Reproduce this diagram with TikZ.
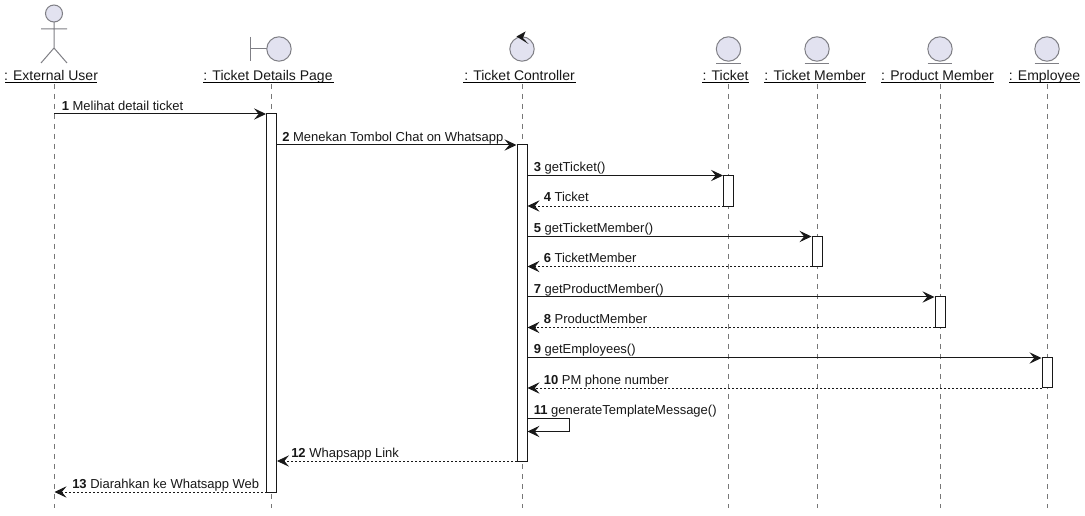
\documentclass[tikz,border=0pt]{standalone}
\usepackage{fontspec}
\setmainfont{Liberation Sans}
\usetikzlibrary{arrows.meta}
\definecolor{partfill}{HTML}{E2E2F0}
\definecolor{partline}{HTML}{7F7F85}
\definecolor{lifeln}{HTML}{777777}
\definecolor{ink}{HTML}{181818}
\tikzset{
  lifeline/.style={draw=lifeln,line width=0.6pt,dash pattern=on 3.75pt off 3.75pt},
  glyph/.style={draw=partline,line width=0.75pt},
  glyphfill/.style={glyph,fill=partfill},
  title/.style={font=\fontsize{10.5pt}{12pt}\selectfont,text=ink,anchor=base,inner sep=0pt},
  msg/.style={font=\fontsize{9.75pt}{11pt}\selectfont,text=ink,anchor=base west,inner sep=0pt},
  uline/.style={draw=black,line width=0.75pt},
  act/.style={draw=ink,fill=white,line width=0.75pt},
  call/.style={draw=ink,line width=0.75pt,-{Stealth[length=9pt,width=8.5pt,inset=3.5pt]}},
  ret/.style={draw=ink,line width=0.6pt,dash pattern=on 1.5pt off 1.5pt,-{Stealth[length=9pt,width=8.5pt,inset=3.5pt]}}
}
\newcommand{\actbox}[5]{\fill[white] (#2,#3) rectangle (#4,#5);\draw[act] (#2,#3) rectangle (#4,#5) coordinate (#1br);\coordinate (#1w) at (#2,0);\coordinate (#1e) at (#4,0);}
\begin{document}
\begin{tikzpicture}[x=0.75pt,y=-0.75pt]
\useasboundingbox (0,0) rectangle (1085,516);
\fill[white] (0,0) rectangle (1085,516);

% lifeline anchors
\foreach \n/\x in {u/54,p/271.5,c/522,t/728.5,m/817,r/940,e/1047}{
  \coordinate (\n top) at (\x,84);
  \coordinate (\n bot) at (\x,508);
  \draw[lifeline] (\n top) -- (\n bot);
}

% titles
\node[title] (tu) at (51,80.5) {: External User};
\node[title] (tp) at (268,80.5) {: Ticket Details Page};
\node[title] (tc) at (519.5,80.5) {: Ticket Controller};
\node[title] (tt) at (725.5,80.5) {: Ticket};
\node[title] (tm) at (815,80.5) {: Ticket Member};
\node[title] (tr) at (937.5,80.5) {: Product Member};
\node[title] (te) at (1044.5,80.5) {: Employee};
\draw[uline] (5,82.5) -- (97,82.5);
\draw[uline] (203,82.5) -- (333.5,82.5);
\draw[uline] (463,82.5) -- (576,82.5);
\draw[uline] (702,82.5) -- (749,82.5);
\draw[uline] (764,82.5) -- (866,82.5);
\draw[uline] (881,82.5) -- (994,82.5);
\draw[uline] (1009,82.5) -- (1080,82.5);

% actor
\draw[glyphfill] (54,13.5) circle (8.5);
\draw[glyph] (54,22) -- (54,48) (41,29) -- (67,29) (41,63) -- (54,48) -- (67,63);

% boundary
\draw[glyph] (250.5,37) -- (250.5,61) (250.5,49) -- (267,49);
\draw[glyphfill] (279,49) circle (12.2);

% control
\draw[glyphfill] (522,49) circle (12.2);
\fill[ink] (516.5,36.5) -- (525.5,31.5) -- (523,38) -- (528.5,44) -- cycle;

% entities
\foreach \x in {728.5,817,940,1047}{
  \draw[glyphfill] (\x,49) circle (12.2);
  \draw[glyph] (\x-12.3,63.3) -- (\x+12.3,63.3);
}

% activations
\actbox{ap}{266.5}{114}{276.5}{492}
\actbox{ac}{517}{145}{527}{461}
\actbox{at}{723.5}{175.5}{733.5}{206.5}
\actbox{am}{812}{236.5}{822}{266.5}
\actbox{ar}{935}{297}{945}{327.5}
\actbox{ae}{1042}{358}{1052}{388}

% messages
\coordinate (s1) at (54,114);       \coordinate (d1) at (266,114);
\coordinate (s2) at (276.5,145);    \coordinate (d2) at (516.5,145);
\coordinate (s3) at (527,175.5);    \coordinate (d3) at (723,175.5);
\coordinate (s4) at (723.5,206);    \coordinate (d4) at (527.5,206);
\coordinate (s5) at (527,236.5);    \coordinate (d5) at (811.5,236.5);
\coordinate (s6) at (812,266.5);    \coordinate (d6) at (527.5,266.5);
\coordinate (s7) at (527,297);      \coordinate (d7) at (934.5,297);
\coordinate (s8) at (935,327.5);    \coordinate (d8) at (527.5,327.5);
\coordinate (s9) at (527,358);      \coordinate (d9) at (1041.5,358);
\coordinate (s10) at (1042,388);    \coordinate (d10) at (527.5,388);
\coordinate (s11) at (527,418.5);   \coordinate (d11) at (527.5,431.5);
\coordinate (k11a) at (569.5,418.5);\coordinate (k11b) at (569.5,431.5);
\coordinate (s12) at (517,461);     \coordinate (d12) at (277,461);
\coordinate (s13) at (266.5,492);   \coordinate (d13) at (54.5,492);

\draw[call] (s1) -- (d1);
\draw[call] (s2) -- (d2);
\draw[call] (s3) -- (d3);
\draw[ret]  (s4) -- (d4);
\draw[call] (s5) -- (d5);
\draw[ret]  (s6) -- (d6);
\draw[call] (s7) -- (d7);
\draw[ret]  (s8) -- (d8);
\draw[call] (s9) -- (d9);
\draw[ret]  (s10) -- (d10);
\draw[call] (s11) -- (k11a) -- (k11b) -- (d11);
\draw[ret]  (s12) -- (d12);
\draw[ret]  (s13) -- (d13);

\node[msg] (l1) at (61.5,110.5) {\textbf{1} Melihat detail ticket};
\node[msg] (l2) at (282,141.5) {\textbf{2} Menekan Tombol Chat on Whatsapp};
\node[msg] (l3) at (533.5,171.5) {\textbf{3} getTicket()};
\node[msg] (l4) at (543.5,201.5) {\textbf{4} Ticket};
\node[msg] (l5) at (533.5,232.5) {\textbf{5} getTicketMember()};
\node[msg] (l6) at (543.5,262.5) {\textbf{6} TicketMember};
\node[msg] (l7) at (533.5,293.5) {\textbf{7} getProductMember()};
\node[msg] (l8) at (543.5,323.5) {\textbf{8} ProductMember};
\node[msg] (l9) at (533.5,353.5) {\textbf{9} getEmployees()};
\node[msg] (l10) at (543.5,384.5) {\textbf{10} PM phone number};
\node[msg] (l11) at (533.5,414.5) {\textbf{11} generateTemplateMessage()};
\node[msg] (l12) at (291,457.5) {\textbf{12} Whapsapp Link};
\node[msg] (l13) at (72,488) {\textbf{13} Diarahkan ke Whatsapp Web};
\end{tikzpicture}
\end{document}
